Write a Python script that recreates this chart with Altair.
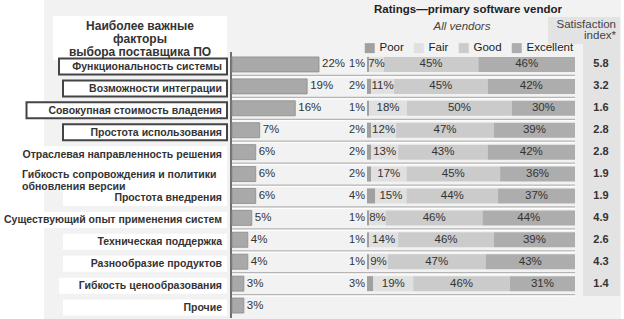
import altair as alt
import pandas as pd

# ---------------- data ----------------
factors = [
    "Функциональность системы",
    "Возможности интеграции",
    "Совокупная стоимость владения",
    "Простота использования",
    "Отраслевая направленность решения",
    "Гибкость сопровождения и политики\nобновления версии",
    "Простота внедрения",
    "Существующий опыт применения систем",
    "Техническая поддержка",
    "Разнообразие продуктов",
    "Гибкость ценообразования",
    "Прочие",
]
importance = [22, 19, 16, 7, 6, 6, 6, 5, 4, 4, 3, 3]

rated_factors = factors[:11]
poor = [1, 2, 1, 2, 2, 2, 4, 1, 1, 1, 3]
fair = [7, 11, 18, 12, 13, 17, 15, 8, 14, 9, 19]
good = [45, 45, 50, 47, 43, 45, 44, 46, 46, 47, 46]
excellent = [46, 42, 30, 39, 42, 36, 37, 44, 39, 43, 31]
satisfaction = [5.8, 3.2, 1.6, 2.8, 2.8, 1.9, 1.9, 4.9, 2.6, 4.3, 1.4]

rating_levels = ["Poor", "Fair", "Good", "Excellent"]
rating_colors = ["#a0a0a0", "#e0e0e0", "#cbcbcb", "#adadad"]

header_lines = ["Наиболее  важные", "факторы", "выбора поставщика  ПО"]
title_text = "Ratings—primary software vendor"
subtitle_text = "All vendors"
sat_header = ["Satisfaction", "index*"]

FONT = "Liberation Sans"

# ---------------- tables ----------------
fac_df = pd.DataFrame({"factor": factors, "rank": range(len(factors)),
                       "importance": importance})
fac_df["label"] = [f"{v}%" for v in importance]

rows = []
for i, f in enumerate(rated_factors):
    vals = [poor[i], fair[i], good[i], excellent[i]]
    tot = sum(vals)
    cum = 0
    for lvl, v in zip(rating_levels, vals):
        s = cum / tot * 100
        e = (cum + v) / tot * 100
        rows.append({"factor": f, "level": lvl, "value": v, "start": s,
                     "end": e, "mid": (s + e) / 2, "label": f"{v}%"})
        cum += v
rat_df = pd.DataFrame(rows)
sat_df = pd.DataFrame({"factor": rated_factors, "sat": satisfaction})
one = pd.DataFrame({"a": [0]})

Y = alt.Y("factor:N", axis=None,
          scale=alt.Scale(domain=factors, range=[53.5, 316.5],
                          paddingInner=0, paddingOuter=0))
IMP = alt.Scale(domain=[0, 22], range=[232, 319], nice=False, zero=True)
RAT = alt.Scale(domain=[0, 100], range=[367, 575], nice=False)
MULTI = "indexof(datum.factor, '\\n') >= 0"


def deco_rect(x, x2, y, y2, color):
    return alt.Chart(one).mark_rect(color=color).encode(
        x=alt.value(x), x2=alt.value(x2), y=alt.value(y), y2=alt.value(y2))


def deco_text(txt, x, y, align="center", size=11, weight="normal",
              style="normal", color="#222"):
    return alt.Chart(one).mark_text(
        text=txt, align=align, baseline="middle", fontSize=size,
        fontWeight=weight, fontStyle=style, font=FONT, color=color
    ).encode(x=alt.value(x), y=alt.value(y))


# ---------------- layers ----------------
background = deco_rect(44, 621, 0, 319, "#f2f2f2")
header_box = deco_rect(53, 227, 16, 60, "#ffffff")
sat_head_box = deco_rect(548, 620, 17, 44, "#e3e3e3")
sat_col_box = deco_rect(583, 620, 44, 296, "#e3e3e3")


def label_box_layer(multi, h):
    flt = MULTI if multi else "!(" + MULTI + ")"
    return alt.Chart(fac_df).transform_filter(flt).transform_calculate(
        left="max(2, min(63, 215 - length(split(datum.factor, '\\n')[0]) * 6.5))",
        right="227",
    ).mark_bar(height=h, fill="white", yOffset=2).encode(
        x=alt.X("left:Q", scale=None, axis=None),
        x2="right:Q",
        y=Y,
        stroke=alt.condition("datum.rank < 4", alt.value("#444444"),
                             alt.value("transparent")),
        strokeWidth=alt.value(2),
    )


label_boxes = label_box_layer(False, 16)
label_boxes_multi = label_box_layer(True, 28)

labels_single = alt.Chart(fac_df).transform_filter("!(" + MULTI + ")").mark_text(
    align="right", baseline="middle", fontSize=10.5, fontWeight="bold",
    font=FONT, color="#333333", dy=2.5).encode(
    x=alt.value(222), y=Y, text="factor:N")

labels_multi = alt.Chart(fac_df).transform_filter(MULTI).mark_text(
    align="left", baseline="middle", fontSize=10.5, fontWeight="bold",
    font=FONT, color="#333333", lineBreak="\n", lineHeight=12, dy=1).encode(
    x=alt.value(22), y=Y, text="factor:N")

separators = alt.Chart(fac_df[fac_df["rank"] < 11]).mark_rule(
    yOffset=11, color="#b5b5b5", strokeWidth=1.2).encode(
    y=Y, x=alt.value(232), x2=alt.value(575))
separators_w = alt.Chart(fac_df[fac_df["rank"] < 11]).mark_rule(
    yOffset=12.5, color="#ffffff", strokeWidth=1).encode(
    y=Y, x=alt.value(232), x2=alt.value(575))

axis_line = alt.Chart(one).mark_rule(color="#444444", strokeWidth=1.5).encode(
    x=alt.value(231), y=alt.value(52), y2=alt.value(318))

imp_bars = alt.Chart(fac_df).mark_bar(
    height=15, color="#a9a9a9", stroke="#8c8c8c", strokeWidth=0.8).encode(
    x=alt.X("importance:Q", scale=IMP, axis=None), y=Y)

imp_text = alt.Chart(fac_df).mark_text(
    align="left", baseline="middle", dx=3, fontSize=11.5, font=FONT,
    color="#333333").encode(
    x=alt.X("importance:Q", scale=IMP, axis=None), y=Y, text="label:N")

rat_bars = alt.Chart(rat_df).mark_bar(height=15).encode(
    x=alt.X("start:Q", scale=RAT, axis=None),
    x2="end:Q",
    y=Y,
    color=alt.Color(
        "level:N",
        scale=alt.Scale(domain=rating_levels, range=rating_colors),
        legend=alt.Legend(
            title=None, orient="none", legendX=364, legendY=42,
            direction="horizontal", symbolType="square", symbolSize=100,
            symbolStrokeWidth=0, labelFontSize=11.5, labelFont=FONT,
            labelColor="#222222", columnPadding=9, labelOffset=4,
            padding=0),
    ),
)

poor_text = alt.Chart(rat_df).transform_filter("datum.level == 'Poor'").mark_text(
    align="right", baseline="middle", dx=-2, fontSize=11, font=FONT,
    color="#333333").encode(
    x=alt.X("start:Q", scale=RAT, axis=None), y=Y, text="label:N")

seg_text = alt.Chart(rat_df).transform_filter("datum.level != 'Poor'").mark_text(
    align="center", baseline="middle", fontSize=11.5, font=FONT,
    color="#333333").encode(
    x=alt.X("mid:Q", scale=RAT, axis=None), y=Y, text="label:N")

sat_text = alt.Chart(sat_df).mark_text(
    align="center", baseline="middle", fontSize=11, fontWeight="bold",
    font=FONT, color="#333333").encode(
    x=alt.value(601), y=Y, text=alt.Text("sat:Q", format=".1f"))

texts = [
    deco_text(header_lines[0], 140, 26, size=12, weight="bold", color="#333"),
    deco_text(header_lines[1], 140, 39, size=12, weight="bold", color="#333"),
    deco_text(header_lines[2], 140, 52, size=12, weight="bold", color="#333"),
    deco_text(title_text, 468, 10, size=11.5, weight="bold"),
    deco_text(subtitle_text, 462, 27, size=11.5, style="italic", color="#444"),
    deco_text(sat_header[0], 616, 25, align="right", size=11.5, color="#444"),
    deco_text(sat_header[1], 616, 36, align="right", size=11.5, color="#444"),
]

chart = alt.layer(
    background, header_box, sat_head_box, sat_col_box,
    label_boxes, label_boxes_multi, labels_single, labels_multi,
    separators, separators_w, axis_line,
    imp_bars, imp_text, rat_bars, poor_text, seg_text, sat_text,
    *texts,
).resolve_scale(x="independent").properties(
    width=624, height=319, padding=0,
    autosize=alt.AutoSizeParams(type="none"),
    background="white",
).configure_view(stroke=None)

chart.save("out.html", embed_options={"renderer": "svg", "actions": False})
